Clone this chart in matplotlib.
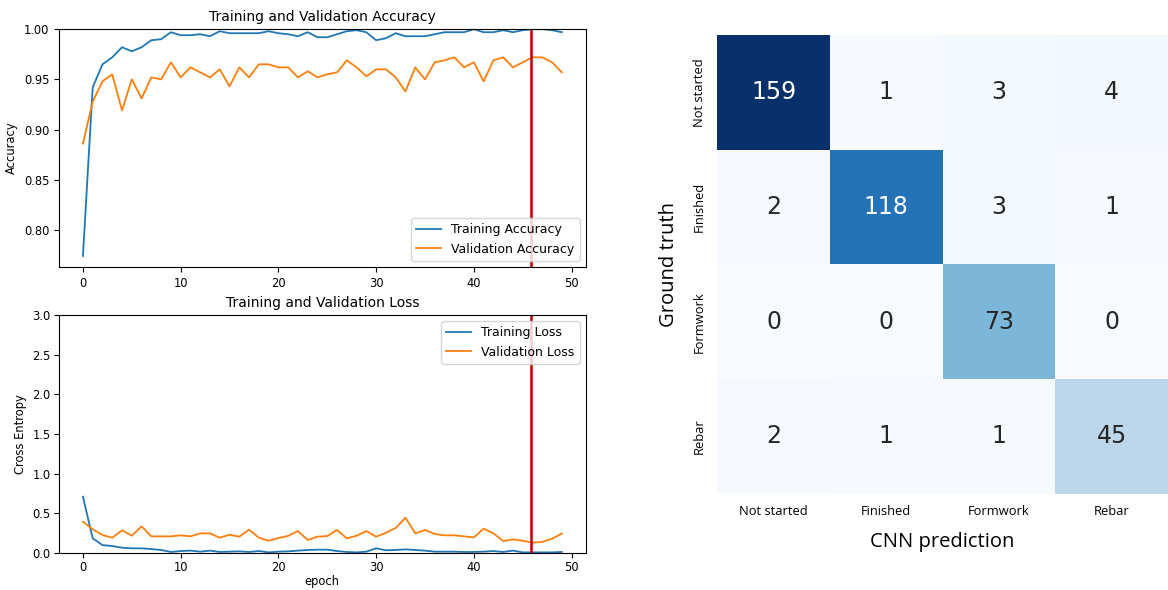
import numpy as np
import matplotlib
matplotlib.use("Agg")
import matplotlib.pyplot as plt
import seaborn as sns

# dados
epochs = np.arange(50)
train_acc = [0.774, 0.942, 0.965, 0.972, 0.982, 0.978, 0.982, 0.989, 0.990, 0.997,
             0.994, 0.994, 0.995, 0.993, 0.998, 0.996, 0.996, 0.996, 0.996, 0.998,
             0.996, 0.995, 0.993, 0.997, 0.992, 0.992, 0.995, 0.998, 0.999, 0.997,
             0.989, 0.991, 0.996, 0.993, 0.993, 0.993, 0.995, 0.997, 0.997, 0.997,
             1.000, 0.997, 0.997, 0.999, 0.997, 0.999, 1.000, 1.000, 0.999, 0.997]
val_acc = [0.886, 0.928, 0.948, 0.955, 0.919, 0.950, 0.931, 0.952, 0.950, 0.967,
           0.952, 0.962, 0.957, 0.952, 0.960, 0.943, 0.962, 0.952, 0.965, 0.965,
           0.962, 0.962, 0.952, 0.958, 0.952, 0.955, 0.957, 0.969, 0.962, 0.953,
           0.960, 0.960, 0.952, 0.938, 0.962, 0.950, 0.967, 0.969, 0.972, 0.962,
           0.967, 0.948, 0.969, 0.972, 0.962, 0.967, 0.972, 0.972, 0.967, 0.957]
train_loss = [0.71, 0.185, 0.10, 0.088, 0.067, 0.059, 0.059, 0.050, 0.038, 0.013,
              0.025, 0.030, 0.017, 0.030, 0.013, 0.017, 0.021, 0.013, 0.025, 0.008,
              0.017, 0.021, 0.030, 0.038, 0.042, 0.042, 0.025, 0.013, 0.008, 0.017,
              0.059, 0.034, 0.038, 0.046, 0.038, 0.030, 0.017, 0.017, 0.017, 0.013,
              0.013, 0.017, 0.025, 0.013, 0.030, 0.008, 0.008, 0.008, 0.008, 0.013]
val_loss = [0.395, 0.300, 0.227, 0.193, 0.286, 0.218, 0.336, 0.210, 0.210, 0.210,
            0.223, 0.210, 0.248, 0.248, 0.193, 0.231, 0.206, 0.294, 0.193, 0.155,
            0.189, 0.216, 0.277, 0.164, 0.206, 0.214, 0.290, 0.185, 0.218, 0.277,
            0.206, 0.256, 0.315, 0.445, 0.248, 0.290, 0.240, 0.223, 0.223, 0.210,
            0.197, 0.307, 0.248, 0.151, 0.172, 0.155, 0.130, 0.139, 0.181, 0.244]
best_epoch = 45.8

classes = ["Not started", "Finished", "Formwork", "Rebar"]
cm = np.array([[159, 1, 3, 4],
               [2, 118, 3, 1],
               [0, 0, 73, 0],
               [2, 1, 1, 45]])

# saida
fig = plt.figure(figsize=(11.68, 5.9), dpi=100)
fs = 8.3
red = "#c00000"

ax1 = fig.add_axes([0.0505, 0.5475, 0.451, 0.403])
ax1.plot(epochs, train_acc, lw=1.3, label="Training Accuracy")
ax1.plot(epochs, val_acc, lw=1.3, label="Validation Accuracy")
ax1.axvline(best_epoch, color=red, lw=1.8)
ax1.set_ylim(0.763, 1.0)
ax1.set_ylabel("Accuracy", fontsize=fs)
ax1.set_title("Training and Validation Accuracy", fontsize=10, pad=6)
ax1.legend(loc="lower right", fontsize=9)
ax1.tick_params(labelsize=fs)

ax2 = fig.add_axes([0.0505, 0.0627, 0.451, 0.403])
ax2.plot(epochs, train_loss, lw=1.3, label="Training Loss")
ax2.plot(epochs, val_loss, lw=1.3, label="Validation Loss")
ax2.axvline(best_epoch, color=red, lw=1.8)
ax2.set_ylim(0, 3.0)
ax2.set_ylabel("Cross Entropy", fontsize=fs)
ax2.set_xlabel("epoch", fontsize=fs, labelpad=0.5)
ax2.set_title("Training and Validation Loss", fontsize=10, pad=6)
ax2.legend(loc="upper right", fontsize=9)
ax2.tick_params(labelsize=fs, pad=2.5)

ax3 = fig.add_axes([0.614, 0.163, 0.386, 0.778])
sns.heatmap(cm, ax=ax3, cmap="Blues", vmin=0, annot=True, fmt="d", cbar=False,
            annot_kws={"fontsize": 17, "family": "DejaVu Sans"})
ax3.set_xticklabels(classes, fontsize=9.3, family="Open Sans")
ax3.set_yticklabels(classes, fontsize=9.3, family="Open Sans", rotation=90, va="center")
ax3.tick_params(length=0, pad=8)
ax3.set_xlabel("CNN prediction", fontsize=14.5, family="Open Sans", labelpad=10)
ax3.set_ylabel("Ground truth", fontsize=14.5, family="Open Sans", labelpad=10)

fig.savefig("out.png", dpi=100)
